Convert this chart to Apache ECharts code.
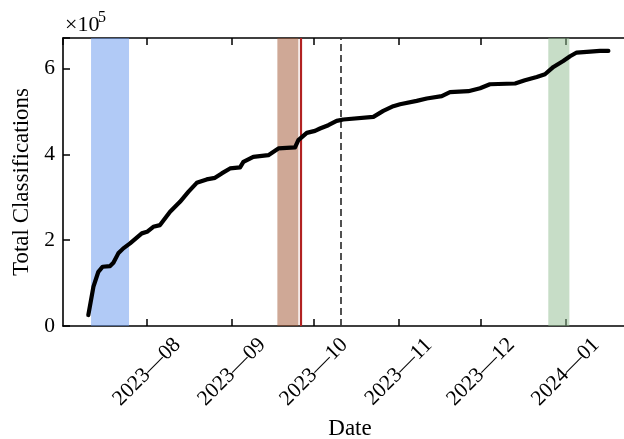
<!DOCTYPE html>
<html>
<head>
<meta charset="utf-8">
<script src="https://cdn.jsdelivr.net/npm/echarts@6/dist/echarts.min.js"></script>
<style>
html,body{margin:0;padding:0;background:#fff;}
#chart{width:624px;height:439px;}
</style>
</head>
<body>
<div id="chart"></div>
<script>
// ---- data ----
const dates = [
  '2023-07-10 13:00','2023-07-12 10:00','2023-07-14 05:00','2023-07-15 19:00','2023-07-18 12:00',
  '2023-07-19 17:00','2023-07-21 12:00','2023-07-23 08:00','2023-07-25 19:00','2023-07-30 02:00',
  '2023-08-01 00:00','2023-08-03 07:00','2023-08-05 18:00','2023-08-09 10:00','2023-08-13 01:00',
  '2023-08-16 02:00','2023-08-19 04:00','2023-08-22 19:00','2023-08-25 20:00','2023-08-28 07:00',
  '2023-08-31 08:00','2023-09-04 00:00','2023-09-05 05:00','2023-09-08 20:00','2023-09-14 08:00',
  '2023-09-18 00:00','2023-09-24 02:00','2023-09-25 07:00','2023-09-28 09:00','2023-10-01 09:00',
  '2023-10-03 05:00','2023-10-06 06:00','2023-10-09 07:00','2023-10-11 17:00','2023-10-22 17:00',
  '2023-10-26 08:00','2023-10-30 00:00','2023-11-01 11:00','2023-11-07 13:00','2023-11-11 05:00',
  '2023-11-16 17:00','2023-11-19 17:00','2023-11-26 10:00','2023-11-30 17:00','2023-12-04 07:00',
  '2023-12-13 12:00','2023-12-17 02:00','2023-12-21 10:00','2023-12-24 10:00','2023-12-27 12:00',
  '2023-12-31 02:00','2024-01-02 14:00','2024-01-05 00:00','2024-01-09 22:00','2024-01-13 12:00',
  '2024-01-16 14:00'
];
const totalClassifications = [
  25600, 91600, 126500, 138200, 139800,
  147500, 169400, 181000, 192700, 216000,
  219700, 231400, 235300, 266300, 289600,
  312900, 333900, 341800, 345500, 355800,
  367400, 369800, 382800, 394500, 398400,
  414000, 416400, 433400, 450400, 455000,
  460600, 468300, 478300, 481600, 487700,
  501600, 512600, 517200, 524900, 530500,
  535900, 545200, 547500, 554500, 563800,
  565500, 573200, 580800, 587100, 604100,
  618100, 629100, 637700, 640000, 641400,
  641400
];
const bandStarts = ['2023-07-11 13:00', '2023-09-17 15:00', '2023-12-25 15:00'];
const bandEnds   = ['2023-07-25 10:00', '2023-09-25 07:00', '2024-01-02 08:00'];
const redLineDate = '2023-09-26 00:00';
const dashedLineDate = '2023-10-10 22:00';
const yTickValues = [0, 200000, 400000, 600000];
const yTickLabels = ['0', '2', '4', '6'];
const xAxisTitle = 'Date';
const yAxisTitle = 'Total Classifications';
const offsetBase = '×10';
const offsetExp = '5';

// ---- styles ----
const FONT = "'Liberation Serif','Times New Roman',serif";
const bandColors = ['rgba(100,149,237,0.5)', 'rgba(160,82,45,0.5)', 'rgba(143,188,143,0.5)'];
const X_MIN = '2023-07-01 07:00';
const X_MAX = '2024-01-27 01:00';

const seriesData = dates.map((d, i) => [d, totalClassifications[i]]);

function monthLabel(val) {
  const d = new Date(val);
  if (d.getDate() !== 1 || d.getHours() !== 0 || d.getMinutes() !== 0) return '';
  const m = String(d.getMonth() + 1).padStart(2, '0');
  return d.getFullYear() + '\u2014' + m;
}

const chart = echarts.init(document.getElementById('chart'), null, {renderer: 'canvas'});
const option = {
  animation: false,
  backgroundColor: '#fff',
  textStyle: {fontFamily: FONT, color: '#000'},
  grid: {left: 63, top: 38, bottom: 113, right: -13, containLabel: false, outerBoundsMode: 'none'},
  xAxis: [{
    type: 'time',
    min: X_MIN, max: X_MAX,
    splitNumber: 6,
    minInterval: 28 * 86400000,
    name: xAxisTitle,
    nameLocation: 'middle',
    nameGap: 91,
    nameTextStyle: {fontFamily: FONT, fontSize: 23, color: '#000'},
    axisLine: {show: true, lineStyle: {color: '#000', width: 1.6}},
    axisTick: {show: true, inside: true, length: 7, lineStyle: {color: '#000', width: 1.5}},
    axisLabel: {
      show: true, rotate: 45, align: 'center', verticalAlign: 'middle', margin: 46,
      fontFamily: FONT, fontSize: 21.5, color: '#000',
      showMinLabel: false, showMaxLabel: false, hideOverlap: false,
      formatter: monthLabel
    },
    splitLine: {show: false}
  }, {
    type: 'time',
    position: 'top',
    min: X_MIN, max: X_MAX,
    splitNumber: 6,
    minInterval: 28 * 86400000,
    axisLine: {show: true, lineStyle: {color: '#000', width: 1.6}},
    axisTick: {show: true, inside: true, length: 7, lineStyle: {color: '#000', width: 1.5}},
    axisLabel: {show: false},
    splitLine: {show: false}
  }],
  yAxis: [{
    type: 'value',
    min: 0, max: 671600, interval: 200000,
    name: yAxisTitle,
    nameLocation: 'middle',
    nameGap: 25,
    nameTextStyle: {fontFamily: FONT, fontSize: 23, color: '#000'},
    axisLine: {show: true, lineStyle: {color: '#000', width: 1.6}},
    axisTick: {show: true, inside: true, length: 7, lineStyle: {color: '#000', width: 1.5}},
    axisLabel: {
      fontFamily: FONT, fontSize: 21.5, color: '#000', margin: 8,
      formatter: v => { const k = yTickValues.indexOf(v); return k >= 0 ? yTickLabels[k] : ''; }
    },
    splitLine: {show: false}
  }],
  graphic: [
    {type: 'text', left: 65, top: 14, silent: true,
     style: {text: offsetBase, font: "22px 'Liberation Serif','Times New Roman',serif", fill: '#000'}},
    {type: 'text', left: 98, top: 10, silent: true,
     style: {text: offsetExp, font: "16px 'Liberation Serif','Times New Roman',serif", fill: '#000'}}
  ],
  series: [{
    type: 'line',
    name: 'markers',
    z: 1,
    silent: true,
    data: seriesData,
    showSymbol: false,
    lineStyle: {opacity: 0},
    markArea: {
      silent: true,
      data: bandStarts.map((s, i) => [
        {xAxis: s, itemStyle: {color: bandColors[i]}},
        {xAxis: bandEnds[i]}
      ])
    },
    markLine: {
      silent: true,
      symbol: ['none', 'none'],
      label: {show: false},
      data: [
        {xAxis: redLineDate, lineStyle: {color: '#b22222', width: 2.2, type: 'solid'}},
        {xAxis: dashedLineDate, lineStyle: {color: '#333', width: 1.7, type: [7, 4]}}
      ]
    }
  }, {
    type: 'line',
    name: 'Total Classifications',
    z: 5,
    data: seriesData,
    showSymbol: false,
    smooth: false,
    lineStyle: {color: '#000', width: 4.2, join: 'round', cap: 'round'},
    itemStyle: {color: '#000'}
  }]
};
chart.setOption(option);
</script>
</body>
</html>
